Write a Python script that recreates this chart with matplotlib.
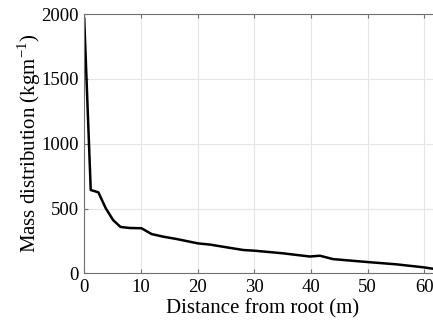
import matplotlib.pyplot as plt

# Distribucion de masa a lo largo de la pala
distancia = [0, 1.15, 2.5, 3.8, 5.1, 6.4, 8.0, 10.1, 11.9, 13.95, 16.3, 20.1,
             22.2, 25.1, 28.1, 30.0, 35.0, 39.8, 41.6, 43.9, 49.8, 55.0, 59.8, 61.5, 63.1]
masa = [1965, 643, 625, 502, 411, 358, 350, 348, 303, 283, 265, 231,
        222, 201, 180, 175, 155, 130, 136, 110, 88, 70, 47, 36, 30]

plt.rcParams['font.family'] = ['Liberation Serif', 'DejaVu Serif']
plt.rcParams['font.size'] = 15
plt.rcParams['mathtext.fontset'] = 'custom'
plt.rcParams['mathtext.rm'] = 'Liberation Serif'

fig = plt.figure(figsize=(4.33, 3.27), dpi=100)
# los ejes se salen un poco por la derecha, como en la figura original
ax = fig.add_axes([0.1945, 0.164, 0.826, 0.793])
ax.plot(distancia, masa, color='black', linewidth=1.8)
ax.set_xlim(0, 63.1)
ax.set_ylim(0, 2000)
ax.set_xticks([0, 10, 20, 30, 40, 50, 60])
ax.set_yticks([0, 500, 1000, 1500, 2000])
ax.grid(True, color='#e6e6e6', linewidth=0.8)
ax.tick_params(direction='in', top=True, right=True, length=3, color='#707070',
               pad=4, labelsize=13.5)
for s in ax.spines.values():
    s.set_color('#707070')
ax.set_xlabel('Distance from root (m)', labelpad=2)
ax.set_ylabel('Mass distribution (kgm$^{\\mathrm{-1}}$)', labelpad=-1)
fig.savefig('out.png', dpi=100)
